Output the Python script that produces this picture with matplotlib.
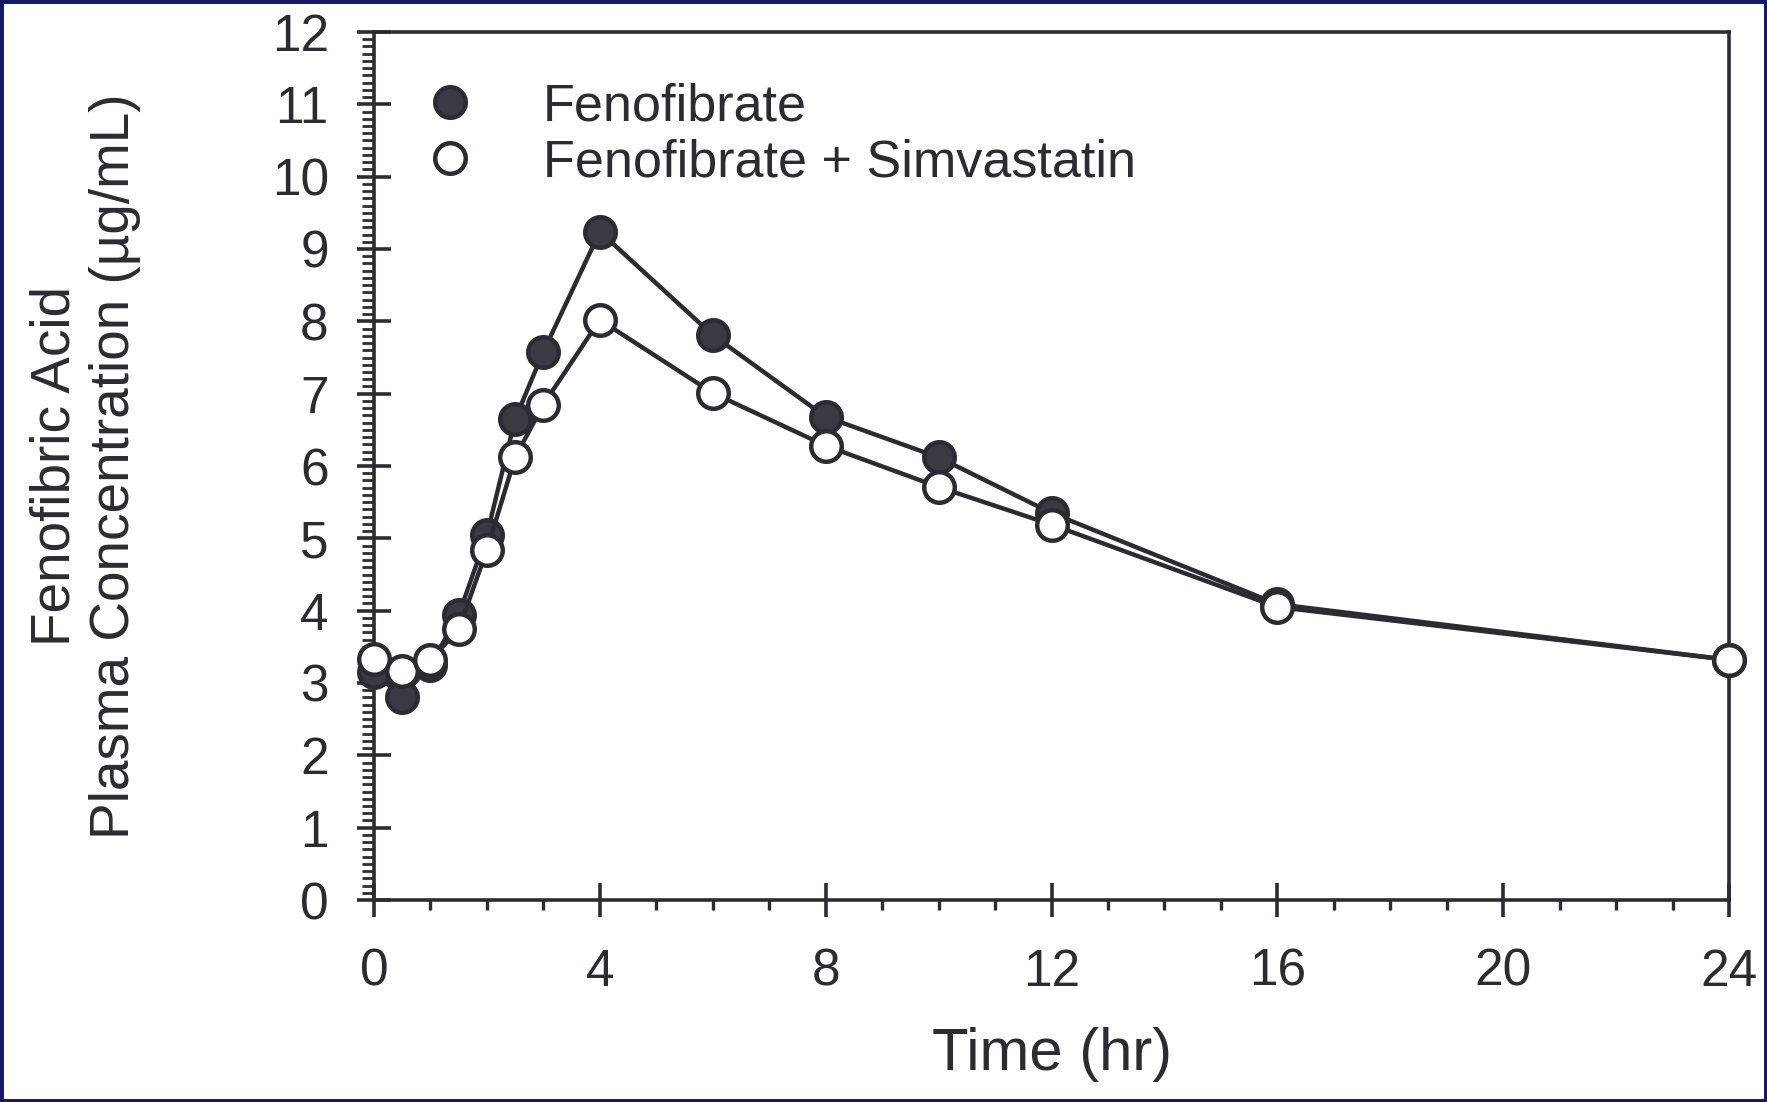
import matplotlib
matplotlib.use("Agg")
import matplotlib.pyplot as plt
from matplotlib.lines import Line2D
from matplotlib.patches import Rectangle
from matplotlib.ticker import MultipleLocator

time_hr = [0, 0.5, 1, 1.5, 2, 2.5, 3, 4, 6, 8, 10, 12, 16, 24]
fenofibrate = [3.15, 2.81, 3.25, 3.94, 5.05, 6.65, 7.58, 9.24, 7.81, 6.68, 6.12, 5.35, 4.09, 3.32]
feno_simva = [3.33, 3.16, 3.32, 3.74, 4.84, 6.12, 6.85, 8.02, 7.01, 6.28, 5.71, 5.19, 4.05, 3.32]
series_labels = ["Fenofibrate", "Fenofibrate + Simvastatin"]
x_ticks = [0, 4, 8, 12, 16, 20, 24]
y_ticks = list(range(0, 13))

plt.rcParams['font.family'] = ['Liberation Sans', 'DejaVu Sans']
ink = "#2b2b33"
fill = "#3a3a42"

fig = plt.figure(figsize=(17.67, 11.02), dpi=100)
fig.patch.set_facecolor("white")
ax = fig.add_axes([374/1767, 1-900/1102, (1729-374)/1767, (900-32)/1102])

ax.plot(time_hr, fenofibrate, color=ink, lw=3.2, marker='o', ms=22,
        mfc=fill, mec=ink, mew=3.2, zorder=3, clip_on=False)
ax.plot(time_hr, feno_simva, color=ink, lw=3.2, marker='o', ms=22,
        mfc='white', mec=ink, mew=3.2, zorder=4, clip_on=False)

ax.set_xlim(0, 24)
ax.set_ylim(0, 12)
ax.set_xticks(x_ticks)
ax.set_yticks(y_ticks)
ax.xaxis.set_minor_locator(MultipleLocator(1))
ax.yaxis.set_minor_locator(MultipleLocator(0.1))
ax.tick_params(axis='both', which='major', direction='inout', length=25,
               width=2.6, color=ink, labelcolor=ink, labelsize=37)
ax.tick_params(axis='y', which='major', pad=20)
ax.tick_params(axis='x', which='major', pad=22)
ax.tick_params(axis='y', which='minor', direction='out', length=8.5, width=2.0, color=ink)
ax.tick_params(axis='x', which='minor', direction='out', length=7, width=2.4, color=ink)
for s in ax.spines.values():
    s.set_linewidth(2.6)
    s.set_color(ink)

handles = [
    Line2D([], [], ls='none', marker='o', ms=22, mfc=fill, mec=ink, mew=3.2),
    Line2D([], [], ls='none', marker='o', ms=22, mfc='white', mec=ink, mew=3.2),
]
ax.legend(handles, series_labels, loc='upper left', bbox_to_anchor=(0.039, 0.942),
          frameon=False, fontsize=37.5, handlelength=0.9, handletextpad=1.33,
          labelspacing=0.13, borderpad=0, borderaxespad=0, labelcolor=ink)

fig.text(1052/1767, 1-1055/1102, "Time (hr)", fontsize=43, color=ink,
         ha='center', va='center')
fig.text(85/1767, 1-466/1102, "Fenofibric Acid\nPlasma Concentration (\u00b5g/mL)",
         fontsize=39.5, color=ink, rotation=90, ha='center', va='center',
         multialignment='center', linespacing=1.2)

fig.add_artist(Rectangle((0, 0), 1, 1, transform=fig.transFigure, fill=False,
                         edgecolor="#17176a", linewidth=5, zorder=10))

fig.savefig("out.png", dpi=100, facecolor="white")
